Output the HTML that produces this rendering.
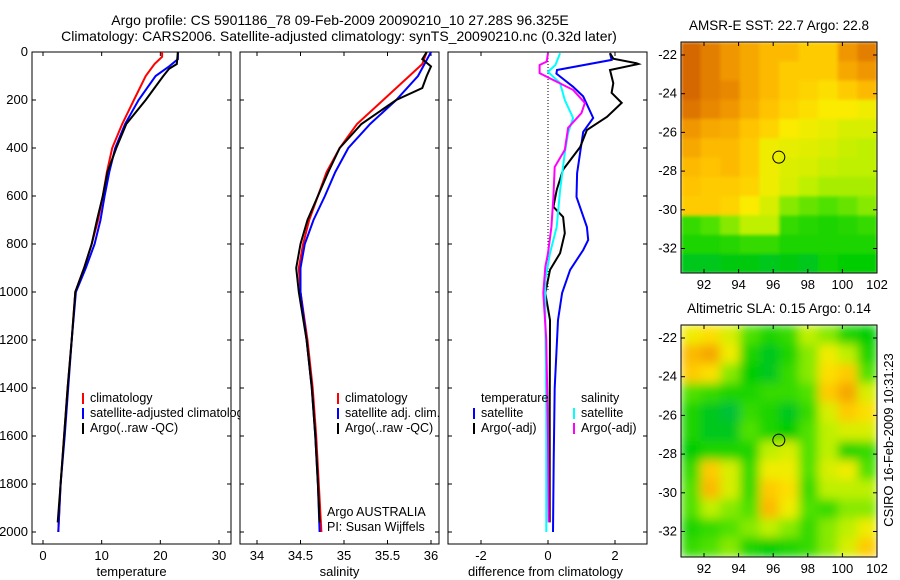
<!DOCTYPE html>
<html><head><meta charset="utf-8"><style>
body{margin:0;background:#fff;}
svg{display:block;font-family:"Liberation Sans",sans-serif;}
</style></head><body>
<svg id="fig" width="900" height="580" viewBox="0 0 900 580">
<defs>
<clipPath id="cp1"><rect x="32" y="52" width="199" height="492"/></clipPath>
<clipPath id="cp2"><rect x="240" y="52" width="199" height="492"/></clipPath>
<clipPath id="cp3"><rect x="448" y="52" width="199" height="492"/></clipPath>
<clipPath id="cm1"><rect x="681" y="42" width="196" height="231"/></clipPath>
<clipPath id="cm2"><rect x="681" y="325" width="196" height="232"/></clipPath>
<filter id="bl1" x="0" y="0" width="1" height="1"><feGaussianBlur stdDeviation="1.5" edgeMode="duplicate"/></filter>
<filter id="bl2" x="0" y="0" width="1" height="1"><feGaussianBlur stdDeviation="5" edgeMode="duplicate"/></filter>
</defs>
<text x="340" y="25" text-anchor="middle" font-size="14">Argo profile: CS 5901186_78 09-Feb-2009 20090210_10 27.28S 96.325E</text>
<text x="339" y="41" text-anchor="middle" font-size="14">Climatology: CARS2006. Satellite-adjusted climatology: synTS_20090210.nc (0.32d later)</text>
<g id="g"></g>
</svg>
<script>
// ---- data ----
const tClimD=[0,20,50,100,200,300,400,500,600,700,800,900,1000,1200,1400,1600,1800,2000];
const tClimV=[20.3,20.3,19,17.5,15.5,13.5,11.8,10.9,10.2,9.4,8.3,7,5.5,4.9,4.2,3.6,3.0,2.6];
const tSatD=[0,30,60,100,200,300,400,500,600,700,800,900,1000,1200,1400,1600,1800,2000];
const tSatV=[23,23,21.5,19.2,16.3,14,12.3,11.3,10.5,9.8,8.8,7.3,5.6,4.9,4.3,3.7,3.0,2.6];
const tArgD=[0,50,70,100,200,300,400,500,600,700,800,900,1000,1200,1400,1600,1800,1960];
const tArgV=[23,22.8,21.5,20.5,17.5,14.2,12.5,11,10.2,9.2,8.3,7,5.5,4.9,4.2,3.6,3.0,2.5];
const sClimD=[0,50,100,200,300,400,500,600,700,800,900,1000,1200,1400,1600,1800,2000];
const sClimV=[35.95,35.9,35.75,35.45,35.15,34.95,34.8,34.7,34.6,34.53,34.48,34.5,34.58,34.64,34.68,34.71,34.74];
const sSatD=[0,100,200,300,400,500,600,700,800,900,1000,1200,1400,1600,1800,2000];
const sSatV=[36.0,35.85,35.6,35.3,35.05,34.9,34.78,34.65,34.55,34.5,34.5,34.57,34.63,34.67,34.7,34.72];
const sArgD=[0,30,60,100,150,200,300,400,500,600,700,800,900,1000,1200,1400,1600,1800,1960];
const sArgV=[35.95,35.9,36.0,35.95,35.9,35.6,35.2,34.95,34.82,34.7,34.58,34.5,34.45,34.48,34.57,34.63,34.67,34.7,34.72];
const dTSatD=[5,33,75,90,145,185,275,333,505,604,729,783,825,908,1004,1117,1400,1700,2000];
const dTSatV=[1.85,1.9,0.27,0.25,0.75,1.05,1.35,1.05,0.87,0.85,1.16,1.2,1.05,0.66,0.42,0.3,0.2,0.17,0.15];
const dTArgD=[5,28,47,50,75,130,170,212,270,325,396,490,575,645,687,755,838,908,1004,1117,1500,1960];
const dTArgV=[1.85,1.95,2.65,2.7,1.85,1.95,1.9,2.2,1.76,1.16,0.96,0.45,0.26,0.16,0.45,0.5,0.36,0.06,-0.08,0.06,0.05,0.05];
const dSSatD=[5,54,83,130,200,275,337,420,575,729,838,950,1117,1500,2000];
const dSSatV=[0.36,0.22,0.0,0.36,0.5,0.75,0.6,0.5,0.36,0.26,0.06,-0.08,-0.08,-0.05,-0.05];
const dSArgD=[5,40,54,88,110,158,212,254,316,408,479,604,729,838,896,1004,1200,1600,1960];
const dSArgV=[0,-0.04,-0.25,-0.25,0.06,0.75,1.1,1.0,0.6,0.5,0.2,0.16,0.1,0.0,-0.08,-0.14,-0.05,0.0,0.02];
const depthTicks=[0,200,400,600,800,1000,1200,1400,1600,1800,2000];
const tTicks=[0,10,20,30], sTicks=[34,34.5,35,35.5,36], dTicks=[-2,0,2];
const lonTicks=[92,94,96,98,100,102], latTicks=[-22,-24,-26,-28,-30,-32];
const floatLon=96.325, floatLat=-27.28;
const sstGrid=[
[0.95,0.9,0.85,0.8,0.75,0.75,0.7,0.7,0.85,0.9],
[0.95,0.9,0.85,0.8,0.75,0.7,0.7,0.7,0.8,0.85],
[0.95,0.9,0.88,0.8,0.75,0.7,0.68,0.65,0.7,0.75],
[0.92,0.88,0.85,0.78,0.72,0.68,0.65,0.62,0.62,0.6],
[0.85,0.8,0.78,0.72,0.68,0.62,0.6,0.58,0.55,0.55],
[0.8,0.75,0.75,0.7,0.6,0.58,0.57,0.55,0.52,0.5],
[0.75,0.72,0.75,0.7,0.6,0.56,0.55,0.52,0.5,0.5],
[0.72,0.7,0.7,0.68,0.6,0.55,0.5,0.48,0.48,0.48],
[0.7,0.7,0.68,0.62,0.55,0.45,0.42,0.4,0.42,0.45],
[0.35,0.4,0.45,0.5,0.5,0.35,0.32,0.3,0.32,0.35],
[0.3,0.3,0.32,0.35,0.35,0.3,0.3,0.3,0.3,0.3],
[0.2,0.2,0.22,0.22,0.2,0.22,0.2,0.28,0.25,0.25]];
const slaGrid=[
[0.6,0.65,0.55,0.4,0.3,0.35,0.5,0.45,0.3,0.25],
[0.75,0.8,0.6,0.3,0.2,0.3,0.45,0.6,0.5,0.3],
[0.7,0.65,0.45,0.25,0.2,0.35,0.45,0.65,0.7,0.4],
[0.4,0.35,0.3,0.3,0.35,0.35,0.4,0.7,0.8,0.55],
[0.3,0.2,0.15,0.35,0.3,0.2,0.35,0.55,0.7,0.65],
[0.3,0.2,0.2,0.4,0.3,0.25,0.4,0.5,0.55,0.55],
[0.25,0.3,0.3,0.3,0.5,0.55,0.4,0.5,0.3,0.35],
[0.35,0.7,0.55,0.35,0.6,0.6,0.4,0.55,0.6,0.4],
[0.4,0.75,0.55,0.35,0.7,0.65,0.35,0.5,0.5,0.5],
[0.4,0.5,0.45,0.4,0.75,0.6,0.4,0.35,0.45,0.45],
[0.3,0.35,0.4,0.45,0.5,0.45,0.35,0.45,0.5,0.6],
[0.35,0.4,0.45,0.3,0.25,0.3,0.35,0.45,0.55,0.7]];

// ---- drawing ----
const NS='http://www.w3.org/2000/svg';
const G=document.getElementById('g');
function mk(tag,at,parent){const e=document.createElementNS(NS,tag);for(const k in at)e.setAttribute(k,at[k]);(parent||G).appendChild(e);return e;}
const TOP=52,BOT=544;
const yD=d=>TOP+d*0.24;
function xs(x0,x1,v0,v1){return v=>x0+(v-v0)*(x1-x0)/(v1-v0);}
const x1=xs(43,219,0,30), x2=xs(257,431,34,36), x3=xs(481,615,-2,2);

function panel(L,name,xf,ticks,label,yLabels){
  const R=L+199;
  const f=mk('rect',{x:L,y:TOP,width:199,height:BOT-TOP,fill:'#fff',stroke:'#000','stroke-width':1});
  
  
  ticks.forEach(t=>{const x=xf(t);
    mk('line',{x1:x,x2:x,y1:BOT,y2:BOT-4,stroke:'#000'});
    mk('line',{x1:x,x2:x,y1:TOP,y2:TOP+4,stroke:'#000'});
    const tx=mk('text',{x:x,y:BOT+16,'text-anchor':'middle','font-size':13});tx.textContent=t;
    
    
  });
  depthTicks.forEach(d=>{const y=yD(d);
    mk('line',{x1:L,x2:L+4,y1:y,y2:y,stroke:'#000'});
    mk('line',{x1:R,x2:R-4,y1:y,y2:y,stroke:'#000'});
    if(yLabels){const tx=mk('text',{x:L-4,y:y+4,'text-anchor':'end','font-size':13});tx.textContent=d;
      
      }
  });
  const xl=mk('text',{x:(L+R)/2+(name==='diff'?-2:0),y:576,'text-anchor':'middle','font-size':13});xl.textContent=label;
  
  
}
function line(D,V,xf,col,clip,name){
  const p=D.map((d,i)=>xf(V[i]).toFixed(1)+','+yD(d).toFixed(1)).join(' ');
  const e=mk('polyline',{points:p,fill:'none',stroke:col,'stroke-width':2,'clip-path':'url(#'+clip+')'});
  
  
}
function legend(x,y,items,name){
  items.forEach((it,i)=>{const yy=y+i*15;
    if(it[1])mk('rect',{x:x,y:yy-9,width:2,height:11,fill:it[1]});
    const t=mk('text',{x:x+8,y:yy,'font-size':12.5});t.textContent=it[0];
    
    
  });
}
panel(32,'temperature',x1,tTicks,'temperature',true);
line(tClimD,tClimV,x1,'#f00','cp1','temp-climatology-line');
line(tSatD,tSatV,x1,'#00f','cp1','temp-satellite-line');
line(tArgD,tArgV,x1,'#000','cp1','temp-argo-line');
legend(82,402,[['climatology','#f00'],['satellite-adjusted climatology','#00f'],['Argo(..raw -QC)','#000']],'temp-legend');
panel(240,'salinity',x2,sTicks,'salinity',false);
line(sClimD,sClimV,x2,'#f00','cp2','sal-climatology-line');
line(sSatD,sSatV,x2,'#00f','cp2','sal-satellite-line');
line(sArgD,sArgV,x2,'#000','cp2','sal-argo-line');
legend(337,402,[['climatology','#f00'],['satellite adj. clim.','#00f'],['Argo(..raw -QC)','#000']],'sal-legend');
const a1=mk('text',{x:327,y:516,'font-size':12.5});a1.textContent='Argo AUSTRALIA';


const a2=mk('text',{x:327,y:531,'font-size':12.5});a2.textContent='PI: Susan Wijffels';


panel(448,'diff',x3,dTicks,'difference from climatology',false);
mk('line',{x1:x3(0),x2:x3(0),y1:TOP,y2:yD(1000),stroke:'#000','stroke-dasharray':'1,2'});
line(dTSatD,dTSatV,x3,'#00f','cp3','diff-temp-satellite-line');
line(dTArgD,dTArgV,x3,'#000','cp3','diff-temp-argo-line');
line(dSSatD,dSSatV,x3,'#0ff','cp3','diff-sal-satellite-line');
line(dSArgD,dSArgV,x3,'#f0f','cp3','diff-sal-argo-line');
legend(473,402,[['temperature',null],['satellite','#00f'],['Argo(-adj)','#000']],'diff-temp-legend');
legend(573,402,[['salinity',null],['satellite','#0ff'],['Argo(-adj)','#f0f']],'diff-sal-legend');

// maps
const stops=[[0,[0,175,140]],[0.25,[0,205,0]],[0.4,[80,225,0]],[0.5,[190,240,0]],[0.62,[250,235,0]],[0.72,[255,195,0]],[0.85,[240,150,0]],[1,[200,80,0]]];
function cmap(v){for(let i=1;i<stops.length;i++){if(v<=stops[i][0]){const a=stops[i-1],b=stops[i],t=(v-a[0])/(b[0]-a[0]);
  return 'rgb('+a[1].map((c,j)=>Math.round(c+(b[1][j]-c)*t)).join(',')+')';}}return 'rgb(200,80,0)';}
function map(L,T,H,grid,clip,filt,name,title,lat22){
  const W=196,lonf=xs(704,877,92,102),latf=v=>lat22+(-22-v)*19.35;
  const g=mk('g',{'clip-path':'url(#'+clip+')'});
  const g2=mk('g',{filter:'url(#'+filt+')'},g);
  
  
  const R=grid.length,C=grid[0].length;
  grid.forEach((row,i)=>row.forEach((v,j)=>{
    const c=mk('rect',{x:L+j*W/C,y:T+i*H/R,width:W/C+0.6,height:H/R+0.6,fill:cmap(v)},g2);
    
    
  }));
  mk('rect',{x:L,y:T,width:W,height:H,fill:'none',stroke:'#000'});
  lonTicks.forEach(t=>{const x=lonf(t);mk('line',{x1:x,x2:x,y1:T+H,y2:T+H-4,stroke:'#000'});mk('line',{x1:x,x2:x,y1:T,y2:T+4,stroke:'#000'});
    const tx=mk('text',{x:x,y:T+H+16,'text-anchor':'middle','font-size':13});tx.textContent=t;
    
    });
  latTicks.forEach(t=>{const y=latf(t);mk('line',{x1:L,x2:L+4,y1:y,y2:y,stroke:'#000'});mk('line',{x1:L+W,x2:L+W-4,y1:y,y2:y,stroke:'#000'});
    const tx=mk('text',{x:L-4,y:y+4,'text-anchor':'end','font-size':13});tx.textContent=t;
    
    });
  const ci=mk('circle',{cx:lonf(floatLon),cy:latf(floatLat),r:6,fill:'none',stroke:'#000'});
  
  
  const tt=mk('text',{x:L+W/2,y:T-12,'text-anchor':'middle','font-size':13.5});tt.textContent=title;
  
  
}
map(681,42,231,sstGrid,'cm1','bl1','sst-map','AMSR-E SST: 22.7 Argo: 22.8',55);
map(681,325,232,slaGrid,'cm2','bl2','sla-map','Altimetric SLA: 0.15 Argo: 0.14',338);
const cs=mk('text',{x:0,y:0,'font-size':13,'text-anchor':'middle',transform:'translate(893,440) rotate(-90)'});cs.textContent='CSIRO 16-Feb-2009 10:31:23';


</script>
</body></html>
